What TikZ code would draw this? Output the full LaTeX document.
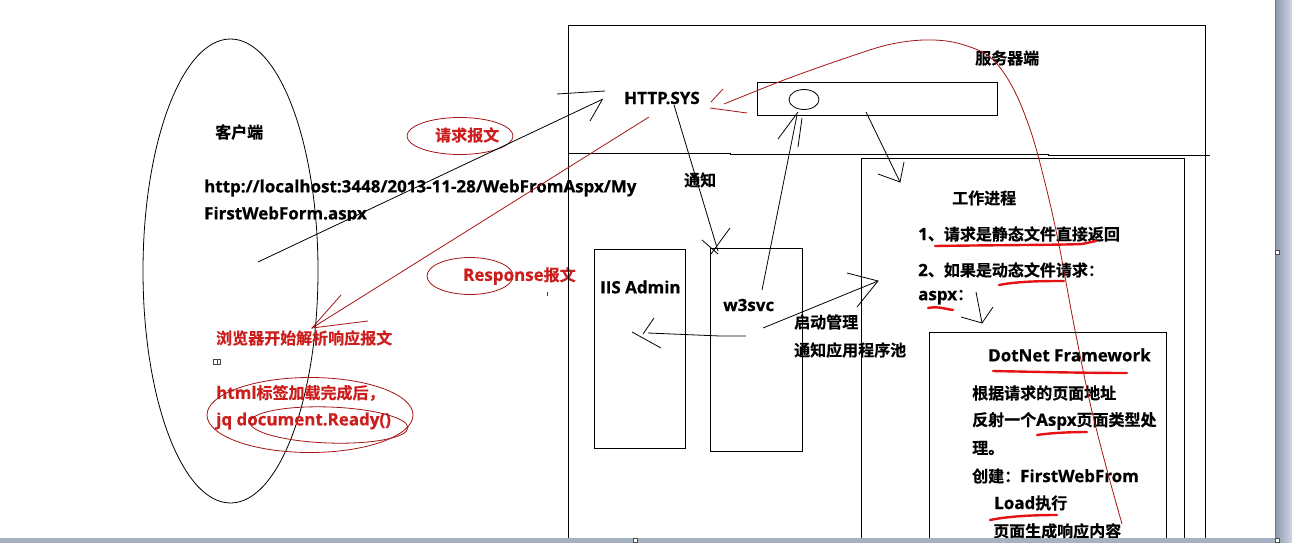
\documentclass[tikz,border=0pt]{standalone}
\usepackage{fontspec}
\setmainfont{Open Sans}[Scale=1.06,BoldFont={Open Sans Bold},BoldFeatures={FakeBold=0.6}]
\newfontfamily\cjk{Noto Sans CJK SC}[BoldFont={Noto Sans CJK SC Bold},BoldFeatures={FakeBold=0.5}]
\usetikzlibrary{shapes.geometric}
\definecolor{txtred}{RGB}{205,30,30}
\definecolor{linered}{RGB}{165,20,20}
\definecolor{ulred}{RGB}{228,18,18}
\definecolor{sbdark}{RGB}{140,152,170}
\definecolor{sblight}{RGB}{205,214,228}
\begin{document}
\begin{tikzpicture}[x=1pt,y=-1pt,
  font=\bfseries\fontsize{16}{19}\selectfont,
  lbl/.style={anchor=west,inner sep=0pt},
  rlbl/.style={lbl,text=txtred},
  boxnode/.style={draw,line width=0.9pt,inner sep=0pt,anchor=north west},
  hand/.style={line width=0.8pt},
  redl/.style={draw=linered,line width=0.8pt},
  ul/.style={draw=ulred,line width=2.4pt,line cap=round},
  rell/.style={draw=linered,line width=0.8pt,ellipse,inner sep=0pt}]
\useasboundingbox (0,0) rectangle (1292,543);
\clip (0,0) rectangle (1292,543);
\fill[white] (0,0) rectangle (1292,543);

% ---------- client side ----------
\node[draw,line width=0.8pt,ellipse,minimum width=175pt,minimum height=464pt] (clientell) at (230.5,271) {};
\node[lbl] (client) at (215,132) {\cjk 客户端};
\node[lbl] (url1) at (204,188) {http://localhost:3448/2013-11-28/WebFromAspx/My};
\begin{scope}
  \clip (190,200) rectangle (420,220.5);
  \node[lbl] (url2) at (204,215) {FirstWebForm.aspx};
\end{scope}

\node[rell,minimum width=106pt,minimum height=37pt] (reqell) at (460,136) {};
\node[rlbl] (req) at (435,135) {\cjk 请求报文};
\node[rell,minimum width=86pt,minimum height=37pt] (respell) at (470,276) {};
\node[rlbl] (resp) at (463,276) {Response{\cjk 报文}};
\draw[redl] (547,292) -- (547,296);

\node[rlbl] (parse) at (216,338) {\cjk 浏览器开始解析响应报文};
\node[draw=black!70,fill=white,line width=0.8pt,inner sep=0pt,minimum width=7pt,minimum height=5pt] (icon) at (217,362) {};
\draw[black!70,line width=0.6pt] (icon.north) -- (icon.south);
\node[rlbl] (html1) at (216,393) {html{\cjk 标签加载完成后，}};
\node[rlbl] (html2) at (216,421) {jq document.Ready()};
\node[rell,minimum width=206pt,minimum height=75pt] (outerell) at (310,415) {};
\node[rell,minimum width=158pt,minimum height=36pt,rotate=-2] (innerell) at (329,425) {};

% ---------- server side ----------
\node[boxnode,minimum width=637pt,minimum height=540pt] (server) at (568,25) {};
\draw[line width=0.9pt] (568,153) -- (730,153) -- (730,154) -- (1048,154) -- (1048,155) -- (1210,155);
\node[lbl] (srvlbl) at (975,58) {\cjk 服务器端};
\node[lbl] (httpsys) at (624,98) {HTTP.SYS};
\node[boxnode,minimum width=240pt,minimum height=33pt] (pool) at (757,82) {};
\node[draw,line width=0.8pt,ellipse,minimum width=30pt,minimum height=20pt,inner sep=0pt] (circ) at (804,99.5) {};

\node[boxnode,minimum width=91pt,minimum height=199pt] (iis) at (594,249) {};
\node[lbl] (iislbl) at (600,287) {IIS Admin};
\node[boxnode,minimum width=92pt,minimum height=203pt] (w3) at (709.5,248) {};
\node[lbl] (w3lbl) at (723,305) {w3svc};
\node[lbl] (notify) at (684,180) {\cjk 通知};
\node[lbl] (start1) at (794,322) {\cjk 启动管理};
\node[lbl] (start2) at (794,350) {\cjk 通知应用程序池};

\node[boxnode,minimum width=323pt,minimum height=400pt] (worker) at (861,157.5) {};
\node[lbl] (wlbl) at (952,198) {\cjk 工作进程};
\node[lbl] (w1) at (918,234) {1{\cjk 、请求是静态文件直接返回}};
\node[lbl] (w2) at (918,270) {2{\cjk 、如果是动态文件请求：}};
\node[lbl] (w3t) at (918,297) {aspx{\cjk ：}};

\node[boxnode,minimum width=237pt,minimum height=300pt] (dotnet) at (929,332) {};
\node[lbl] (dnlbl) at (988,355) {DotNet Framework};
\node[lbl] (d1) at (972,393) {\cjk 根据请求的页面地址};
\node[lbl] (d2) at (972,421) {{\cjk 反射一个}Aspx{\cjk 页面类型处}};
\node[lbl] (d3) at (972,448) {\cjk 理。};
\node[lbl] (d4) at (972,476) {{\cjk 创建：}FirstWebFrom};
\node[lbl] (d5) at (994,503) {Load{\cjk 执行}};
\node[lbl] (d6) at (993,531) {\cjk 页面生成响应内容};

% ---------- black hand-drawn arrows ----------
\coordinate (a1s) at (258,262);
\coordinate (a1t) at (603,99);
\draw[hand] (a1s) -- (a1t);
\draw[hand] (557,94) -- (605,91);
\draw[hand] (590,121) -- (602,100);

\coordinate (a2s) at (674,105);
\coordinate (a2t) at (718,251);
\draw[hand] (a2s) -- (a2t);
\draw[hand] (702,240) -- (718,254);
\draw[hand] (730,228) -- (711,254);

\coordinate (a3s) at (762,290);
\coordinate (a3t) at (797,115);
\draw[hand] (a3s) -- (a3t);
\draw[hand] (798,112) -- (778,139);
\draw[hand] (802,118) -- (798,147);

\coordinate (a4s) at (866,112);
\coordinate (a4t) at (900,182);
\draw[hand] (a4s) -- (a4t);
\draw[hand] (878,174) -- (900,182) -- (904,162);

\coordinate (a5s) at (746,336);
\coordinate (a5t) at (648,333);
\draw[hand] (a5s) -- (720,336) -- (a5t);
\draw[hand] (632,332) -- (661,348);
\draw[hand] (654,318) -- (643,334);

\coordinate (a6s) at (763,328);
\coordinate (a6t) at (878,281);
\draw[hand] (a6s) -- (a6t);
\draw[hand] (847,273) -- (a6t) -- (857,307);

\coordinate (a7s) at (976,292);
\coordinate (a7t) at (982,323);
\draw[hand] (a7s) -- (a7t);
\draw[hand] (961,317) -- (a7t) -- (993,307);

% ---------- red lines ----------
\coordinate (r1s) at (649,117);
\coordinate (r1t) at (312,328);
\draw[redl] (r1s) -- (r1t);
\draw[redl] (341,295) -- (r1t) -- (368,321);

\coordinate (c1s) at (724,104);
\coordinate (c1e) at (1122,524);
\draw[redl] plot[smooth,tension=0.55] coordinates {(c1s) (784,80) (840,60) (887,45) (924,40) (957,43) (990,57) (1013,88) (1032,135) (1048,195) (1060,250) (1073,320) (1090,403) (1107,470) (c1e)};
\draw[redl] (711,102) -- (723,89);
\draw[redl] (710,108) -- (747,113);

% ---------- red underlines ----------
\draw[ul] (935,246) .. controls (1000,245) and (1060,245) .. (1082,244) -- (1096,241);
\draw[ul] (999,285) .. controls (1020,281) and (1045,281) .. (1064,281);
\draw[ul] (928,308) .. controls (938,306) and (945,309) .. (953,310);
\draw[ul] (993,371) .. controls (1040,372) and (1090,373) .. (1127,373);
\draw[ul] (1037,435) .. controls (1050,433) and (1070,432) .. (1087,432);
\draw[ul] (990,520) .. controls (1010,516) and (1035,515) .. (1057,515);

% ---------- window chrome ----------
\shade[left color=sbdark,right color=sblight] (1275,0) rectangle (1292,543);
\draw[sbdark!80!black,line width=0.6pt] (1275,0) -- (1275,543);
\fill[sbdark!60!sblight] (0,537.5) rectangle (1275,543);
\draw[black!70,fill=white,line width=0.6pt] (1275.5,250) rectangle (1279.5,254);
\draw[black!70,fill=white,line width=0.6pt] (1275.5,538.5) rectangle (1279.5,542.5);
\draw[black!70,fill=white,line width=0.6pt] (633.5,538.5) rectangle (637.5,542.5);
\end{tikzpicture}
\end{document}
